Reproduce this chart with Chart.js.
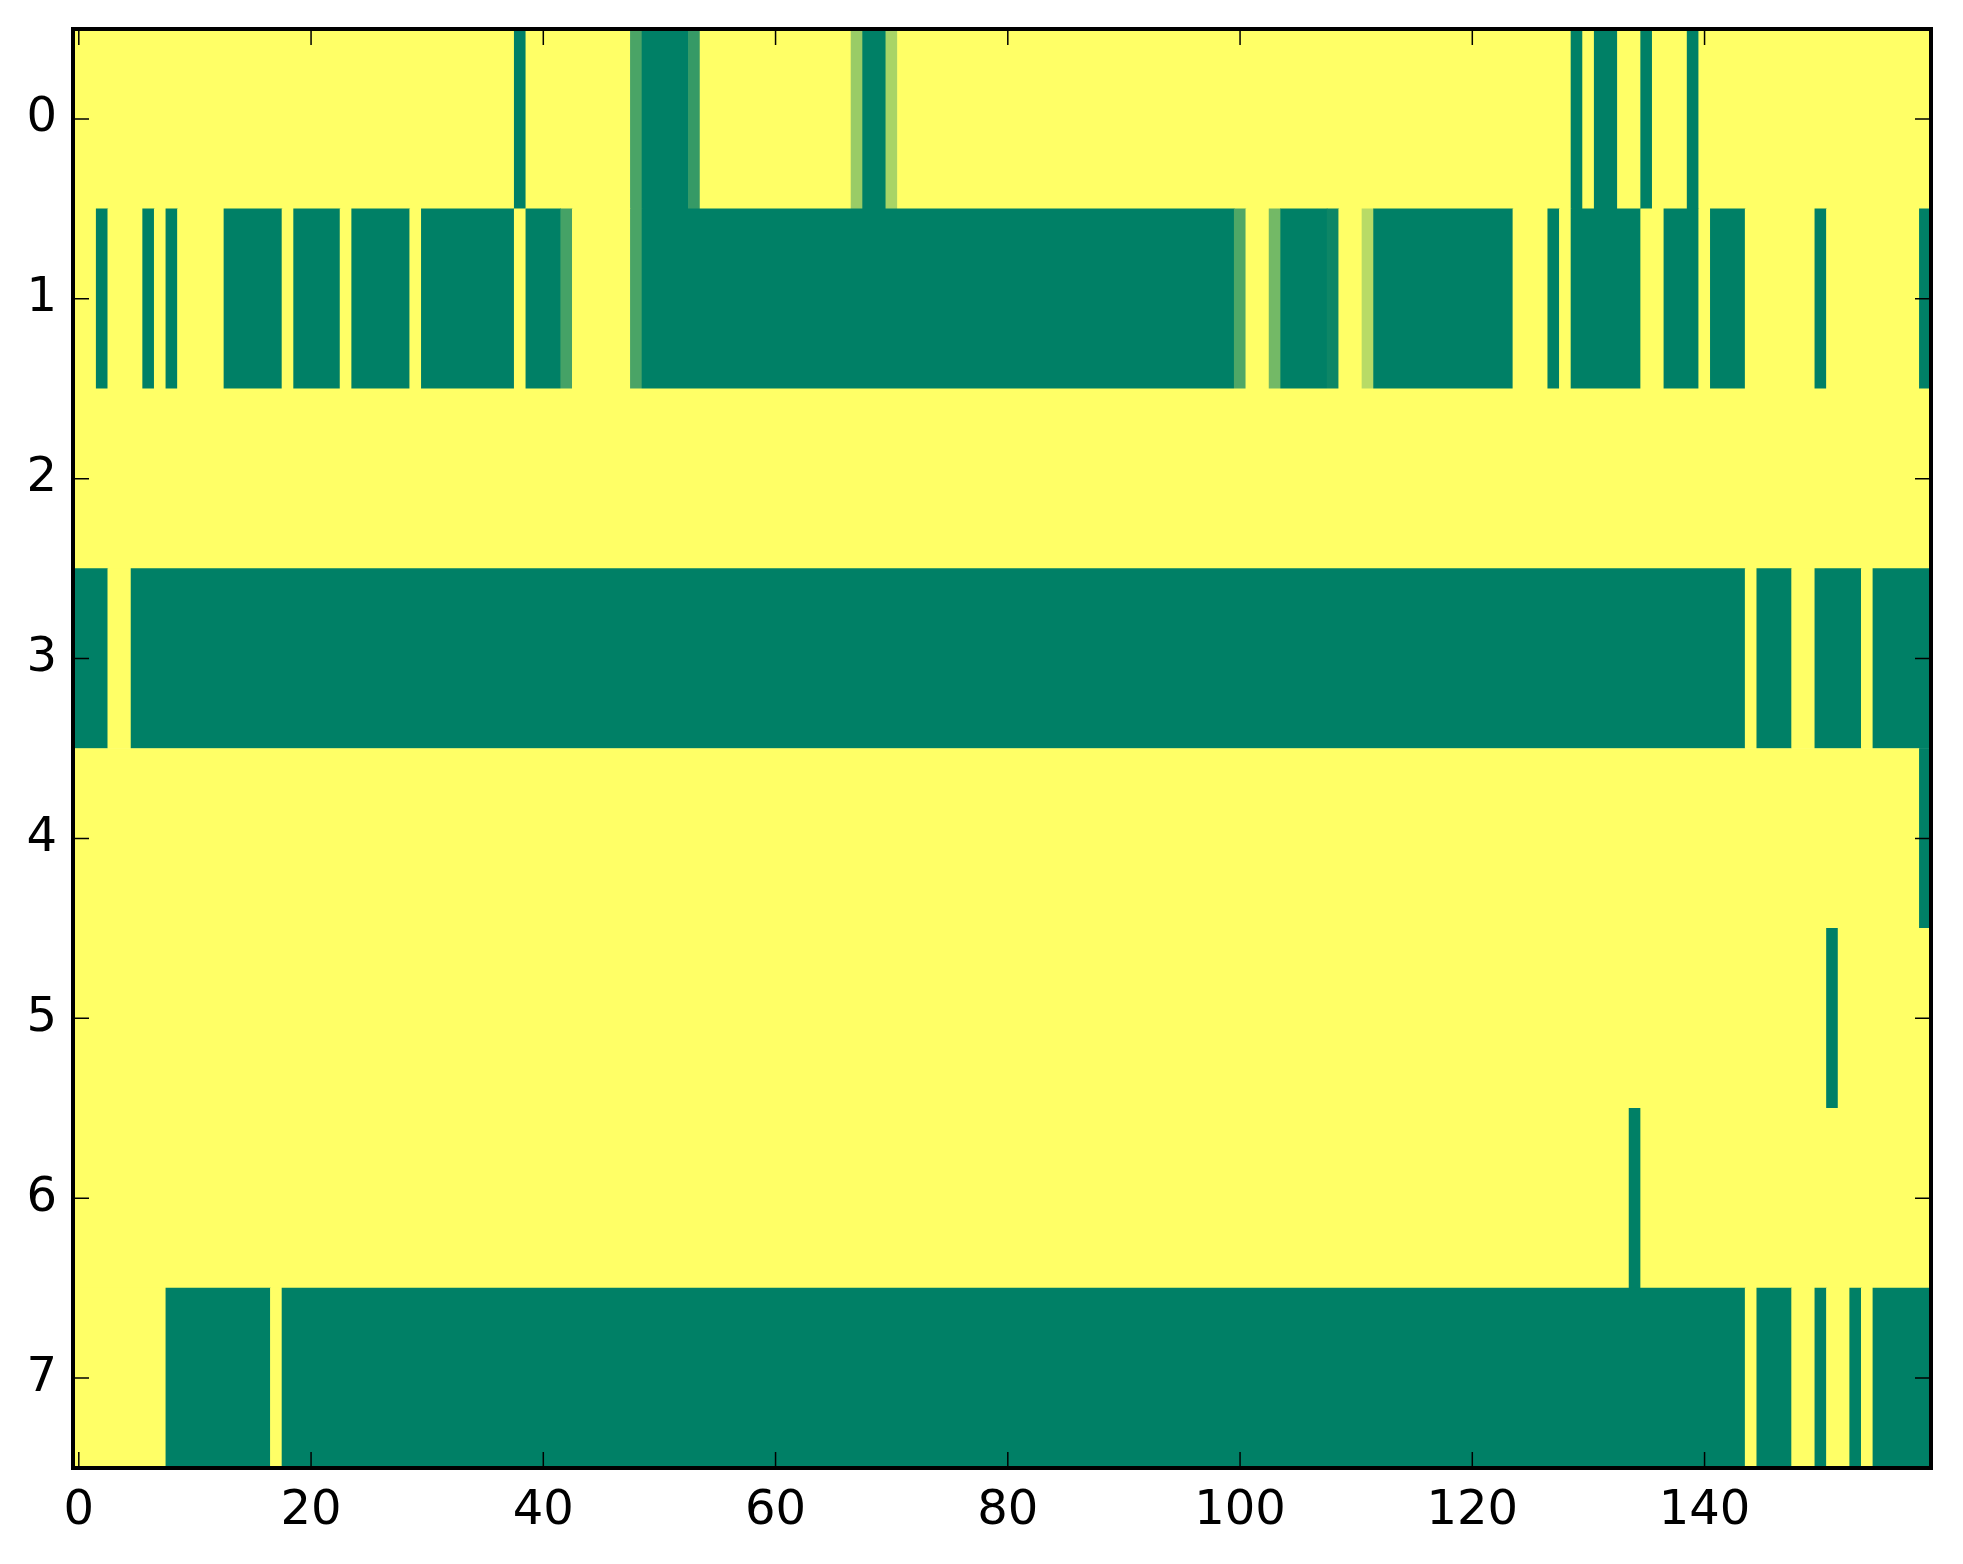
<!DOCTYPE html>
<html>
<head>
<meta charset="utf-8">
<script src="https://cdn.jsdelivr.net/npm/chart.js@4/dist/chart.umd.min.js"></script>
<style>
  html, body { margin: 0; padding: 0; background: #ffffff; }
  #wrap { width: 1963px; height: 1564px; }
</style>
</head>
<body>
<div id="wrap"><canvas id="heat" width="1963" height="1564"></canvas></div>
<script>
// rows of the image, 160 columns each (0 = dark green, 1 = yellow)
const rowLabels = ["0", "1", "2", "3", "4", "5", "6", "7"];
const xTickValues = [0, 20, 40, 60, 80, 100, 120, 140];

const row0 = [
  1,1,1,1,1,1,1,1,1,1,1,1,1,1,1,1,1,1,1,1,
  1,1,1,1,1,1,1,1,1,1,1,1,1,1,1,1,1,1,0,1,
  1,1,1,1,1,1,1,1,0.29,0,0,0,0,0.21,1,1,1,1,1,1,
  1,1,1,1,1,1,1,0.6,0,0,0.66,1,1,1,1,1,1,1,1,1,
  1,1,1,1,1,1,1,1,1,1,1,1,1,1,1,1,1,1,1,1,
  1,1,1,1,1,1,1,1,1,1,1,1,1,1,1,1,1,1,1,1,
  1,1,1,1,1,1,1,1,1,0,1,0,0,1,1,0,1,1,1,0,
  1,1,1,1,1,1,1,1,1,1,1,1,1,1,1,1,1,1,1,1
];
const row1 = [
  1,1,0,1,1,1,0,1,0,1,1,1,1,0,0,0,0,0,1,0,
  0,0,0,1,0,0,0,0,0,1,0,0,0,0,0,0,0,0,1,0,
  0,0,0.27,1,1,1,1,1,0.29,0,0,0,0,0,0,0,0,0,0,0,
  0,0,0,0,0,0,0,0,0,0,0,0,0,0,0,0,0,0,0,0,
  0,0,0,0,0,0,0,0,0,0,0,0,0,0,0,0,0,0,0,0,
  0.31,1,1,0.45,0,0,0,0,0.05,1,1,0.72,0,0,0,0,0,0,0,0,
  0,0,0,0,1,1,1,0,1,0,0,0,0,0,0,1,1,0,0,0,
  1,0,0,0,1,1,1,1,1,1,0,1,1,1,1,1,1,1,1,0
];
const row2 = [
  1,1,1,1,1,1,1,1,1,1,1,1,1,1,1,1,1,1,1,1,
  1,1,1,1,1,1,1,1,1,1,1,1,1,1,1,1,1,1,1,1,
  1,1,1,1,1,1,1,1,1,1,1,1,1,1,1,1,1,1,1,1,
  1,1,1,1,1,1,1,1,1,1,1,1,1,1,1,1,1,1,1,1,
  1,1,1,1,1,1,1,1,1,1,1,1,1,1,1,1,1,1,1,1,
  1,1,1,1,1,1,1,1,1,1,1,1,1,1,1,1,1,1,1,1,
  1,1,1,1,1,1,1,1,1,1,1,1,1,1,1,1,1,1,1,1,
  1,1,1,1,1,1,1,1,1,1,1,1,1,1,1,1,1,1,1,1
];
const row3 = [
  0,0,0,1,1,0,0,0,0,0,0,0,0,0,0,0,0,0,0,0,
  0,0,0,0,0,0,0,0,0,0,0,0,0,0,0,0,0,0,0,0,
  0,0,0,0,0,0,0,0,0,0,0,0,0,0,0,0,0,0,0,0,
  0,0,0,0,0,0,0,0,0,0,0,0,0,0,0,0,0,0,0,0,
  0,0,0,0,0,0,0,0,0,0,0,0,0,0,0,0,0,0,0,0,
  0,0,0,0,0,0,0,0,0,0,0,0,0,0,0,0,0,0,0,0,
  0,0,0,0,0,0,0,0,0,0,0,0,0,0,0,0,0,0,0,0,
  0,0,0,0,1,0,0,0,1,1,0,0,0,0,1,0,0,0,0,0
];
const row4 = [
  1,1,1,1,1,1,1,1,1,1,1,1,1,1,1,1,1,1,1,1,
  1,1,1,1,1,1,1,1,1,1,1,1,1,1,1,1,1,1,1,1,
  1,1,1,1,1,1,1,1,1,1,1,1,1,1,1,1,1,1,1,1,
  1,1,1,1,1,1,1,1,1,1,1,1,1,1,1,1,1,1,1,1,
  1,1,1,1,1,1,1,1,1,1,1,1,1,1,1,1,1,1,1,1,
  1,1,1,1,1,1,1,1,1,1,1,1,1,1,1,1,1,1,1,1,
  1,1,1,1,1,1,1,1,1,1,1,1,1,1,1,1,1,1,1,1,
  1,1,1,1,1,1,1,1,1,1,1,1,1,1,1,1,1,1,1,0
];
const row5 = [
  1,1,1,1,1,1,1,1,1,1,1,1,1,1,1,1,1,1,1,1,
  1,1,1,1,1,1,1,1,1,1,1,1,1,1,1,1,1,1,1,1,
  1,1,1,1,1,1,1,1,1,1,1,1,1,1,1,1,1,1,1,1,
  1,1,1,1,1,1,1,1,1,1,1,1,1,1,1,1,1,1,1,1,
  1,1,1,1,1,1,1,1,1,1,1,1,1,1,1,1,1,1,1,1,
  1,1,1,1,1,1,1,1,1,1,1,1,1,1,1,1,1,1,1,1,
  1,1,1,1,1,1,1,1,1,1,1,1,1,1,1,1,1,1,1,1,
  1,1,1,1,1,1,1,1,1,1,1,0,1,1,1,1,1,1,1,1
];
const row6 = [
  1,1,1,1,1,1,1,1,1,1,1,1,1,1,1,1,1,1,1,1,
  1,1,1,1,1,1,1,1,1,1,1,1,1,1,1,1,1,1,1,1,
  1,1,1,1,1,1,1,1,1,1,1,1,1,1,1,1,1,1,1,1,
  1,1,1,1,1,1,1,1,1,1,1,1,1,1,1,1,1,1,1,1,
  1,1,1,1,1,1,1,1,1,1,1,1,1,1,1,1,1,1,1,1,
  1,1,1,1,1,1,1,1,1,1,1,1,1,1,1,1,1,1,1,1,
  1,1,1,1,1,1,1,1,1,1,1,1,1,1,0,1,1,1,1,1,
  1,1,1,1,1,1,1,1,1,1,1,1,1,1,1,1,1,1,1,1
];
const row7 = [
  1,1,1,1,1,1,1,1,0,0,0,0,0,0,0,0,0,1,0,0,
  0,0,0,0,0,0,0,0,0,0,0,0,0,0,0,0,0,0,0,0,
  0,0,0,0,0,0,0,0,0,0,0,0,0,0,0,0,0,0,0,0,
  0,0,0,0,0,0,0,0,0,0,0,0,0,0,0,0,0,0,0,0,
  0,0,0,0,0,0,0,0,0,0,0,0,0,0,0,0,0,0,0,0,
  0,0,0,0,0,0,0,0,0,0,0,0,0,0,0,0,0,0,0,0,
  0,0,0,0,0,0,0,0,0,0,0,0,0,0,0,0,0,0,0,0,
  0,0,0,0,1,0,0,0,1,1,0,1,1,0,1,0,0,0,0,0
];

const rows = [row0, row1, row2, row3, row4, row5, row6, row7];

// matplotlib "summer" colormap
function summer(v) {
  const r = Math.round(255 * v);
  const g = Math.round(255 * (0.5 + 0.5 * v));
  const b = Math.round(255 * 0.4);
  return `rgb(${r},${g},${b})`;
}

// merge runs of equal cells into one floating bar per run
const cells = [];
rows.forEach((vals, r) => {
  let start = 0;
  for (let c = 1; c <= vals.length; c++) {
    if (c === vals.length || vals[c] !== vals[start]) {
      cells.push({ y: rowLabels[r], x: [start - 0.5, c - 0.5], v: vals[start] });
      start = c;
    }
  }
});

// frame and inward ticks on all four sides
const frame = {
  id: "frame",
  afterDraw(chart) {
    const { ctx, chartArea: a, scales } = chart;
    ctx.save();
    ctx.strokeStyle = "#000";
    ctx.lineWidth = 1.5;
    ctx.beginPath();
    xTickValues.forEach((t) => {
      const px = scales.x.getPixelForValue(t);
      ctx.moveTo(px, a.bottom);
      ctx.lineTo(px, a.bottom - 16);
      ctx.moveTo(px, a.top);
      ctx.lineTo(px, a.top + 16);
    });
    rowLabels.forEach((lab, i) => {
      const py = scales.y.getPixelForValue(i);
      ctx.moveTo(a.left, py);
      ctx.lineTo(a.left + 16, py);
      ctx.moveTo(a.right, py);
      ctx.lineTo(a.right - 16, py);
    });
    ctx.stroke();
    ctx.lineWidth = 4;
    ctx.strokeRect(a.left, a.top, a.right - a.left, a.bottom - a.top);
    ctx.restore();
  },
};

const tickFont = { family: "DejaVu Sans", size: 48 };

new Chart(document.getElementById("heat"), {
  type: "bar",
  data: {
    labels: rowLabels,
    datasets: [
      {
        data: cells,
        backgroundColor: (c) => summer(c.raw ? c.raw.v : 1),
        borderWidth: 0,
        barPercentage: 1,
        categoryPercentage: 1,
      },
    ],
  },
  options: {
    indexAxis: "y",
    responsive: false,
    devicePixelRatio: 1,
    animation: false,
    layout: { padding: { top: 29, right: 32, left: 0, bottom: 0 } },
    plugins: { legend: { display: false }, tooltip: { enabled: false } },
    scales: {
      x: {
        type: "linear",
        min: -0.5,
        max: 159.5,
        grid: { display: false },
        border: { display: false },
        afterBuildTicks: (s) => {
          s.ticks = xTickValues.map((v) => ({ value: v }));
        },
        afterFit: (s) => {
          s.height = 96;
          s.paddingLeft = 0;
          s.paddingRight = 0;
        },
        ticks: { font: tickFont, color: "#000", padding: 7, maxRotation: 0 },
      },
      y: {
        type: "category",
        grid: { display: false },
        border: { display: false },
        afterFit: (s) => {
          s.width = 73;
          s.paddingTop = 0;
          s.paddingBottom = 0;
        },
        ticks: { font: tickFont, color: "#000", padding: 8 },
      },
    },
  },
  plugins: [frame],
});
</script>
</body>
</html>
